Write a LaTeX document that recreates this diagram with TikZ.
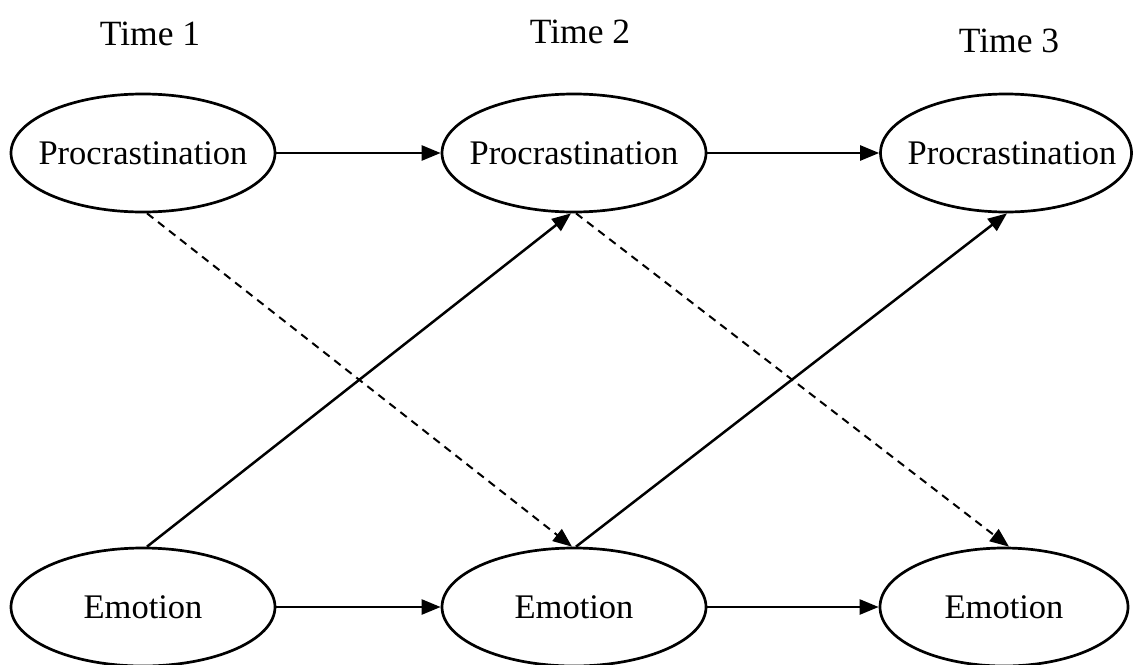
\documentclass[tikz,border=0pt]{standalone}
\usepackage{fontspec}
\setmainfont{Liberation Serif}
\usetikzlibrary{arrows.meta,shapes.geometric}
\newcommand{\zw}[1]{\makebox[0pt]{#1}}
\begin{document}
\begin{tikzpicture}[x=1pt,y=-1pt,
  var/.style={ellipse,draw,line width=2.7pt,minimum width=264pt,minimum height=118pt,inner sep=0pt,font=\fontsize{34.5}{40}\selectfont},
  timelbl/.style={anchor=base,inner sep=0pt,font=\fontsize{35.5}{42}\selectfont},
  solidarrow/.style={line width=2.5pt,-{Triangle[length=19pt,width=15pt]}},
  dasharrow/.style={line width=2pt,-{Triangle[length=19pt,width=15pt]},dash pattern=on 8pt off 6pt}]
\useasboundingbox (0,0) rectangle (1134,664);
\node[timelbl] (t1) at (150,45) {Time 1};
\node[timelbl] (t2) at (580,43) {Time 2};
\node[timelbl] (t3) at (1009,52) {Time 3};
\node[var] (p1) at (143,153) {\zw{Procrastination}};
\node[var] (p2) at (574,153) {\zw{Procrastination}};
\node[var,minimum width=251pt] (p3) at (1006,153) {\zw{\hspace{12pt}Procrastination}};
\node[var] (e1) at (143,607) {\zw{Emotion}};
\node[var] (e2) at (574,607) {\zw{Emotion}};
\node[var,minimum width=248pt] (e3) at (1004,607) {\zw{Emotion}};
\draw[solidarrow] (p1) -- (p2);
\draw[solidarrow] (p2) -- (p3);
\draw[solidarrow] (e1) -- (e2);
\draw[solidarrow] (e2) -- (e3);
\draw[solidarrow] ([xshift=4pt]e1.north) -- ([xshift=-3pt]p2.south);
\draw[solidarrow] ([xshift=2pt]e2.north) -- ([xshift=1pt]p3.south);
\draw[dasharrow] ([xshift=4pt]p1.south) -- ([xshift=-2pt]e2.north);
\draw[dasharrow] ([xshift=2pt]p2.south) -- ([xshift=5pt]e3.north);
\end{tikzpicture}
\end{document}
